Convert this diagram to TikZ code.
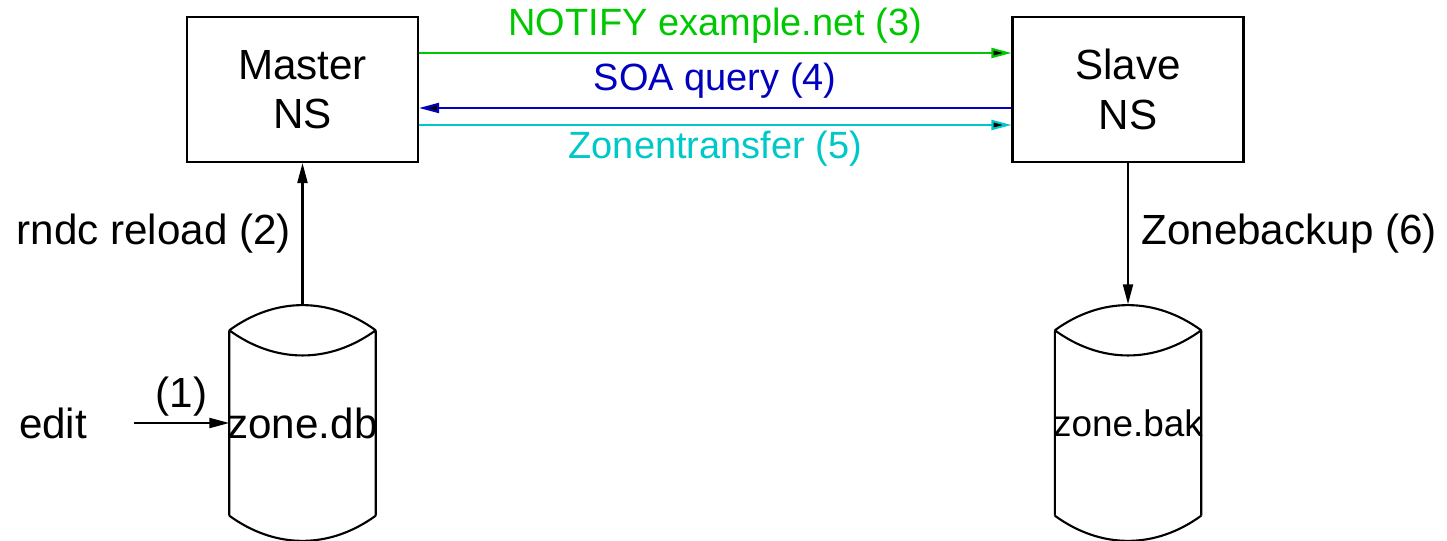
\documentclass[tikz,border=0pt]{standalone}
\usepackage{fontspec}
\setmainfont{Liberation Sans}
\usetikzlibrary{arrows.meta}
\definecolor{notifygreen}{RGB}{0,200,0}
\definecolor{soablue}{RGB}{0,0,190}
\definecolor{xfercyan}{RGB}{0,200,200}

\begin{document}
\begin{tikzpicture}[
  font=\fontsize{12}{14}\selectfont,
  nsbox/.style={rectangle, draw, line width=0.6pt, minimum width=2.31cm, minimum height=1.45cm, align=center},
  dbnode/.style={rectangle, inner sep=0pt, minimum width=1.45cm, minimum height=1.84cm},
  arr/.style={-{Triangle[length=0.2cm,width=0.1cm,fill=black]}, line width=0.6pt},
  msg/.style={font=\fontsize{10.8}{13}\selectfont}
]
  \useasboundingbox (0,0) rectangle (14.47,5.40);

  % name servers
  \node[nsbox] (master) at (3.025,4.505) {Master\\NS};
  \node[nsbox] (slave) at (11.28,4.505) {Slave\\NS};

  % zone files
  \node[dbnode] (zonedb) at (3.025,1.17) {\makebox[0pt]{zone.db}};
  \node[dbnode, font=\fontsize{10.5}{12}\selectfont] (zonebak) at (11.28,1.17) {\makebox[0pt]{zone.bak}};
  \foreach \db in {zonedb,zonebak} {
    \draw[line width=0.6pt] (\db.north west) to[bend left=36] (\db.north east)
      (\db.north west) to[bend right=36] (\db.north east)
      (\db.north west) -- (\db.south west)
      (\db.north east) -- (\db.south east)
      (\db.south west) to[bend right=36] (\db.south east);
    \coordinate (\db-top) at ([yshift=0.26cm]\db.north);
  }

  % edit
  \node[minimum width=1.6cm, inner sep=0pt] (edit) at (0.53,1.17) {edit};
  \draw[arr] (edit) -- node[above, inner sep=1.5pt] {(1)} (zonedb);

  % reload and backup
  \draw[arr] (zonedb-top) -- node[left, inner sep=3pt] {rndc reload (2)} (master);
  \draw[arr] (slave) -- node[right, inner sep=3.5pt] {Zonebackup (6)} (zonebak-top);

  % messages
  \draw[arr, notifygreen] ([yshift=0.365cm]master.east) -- node[msg, above, inner sep=2.5pt] {NOTIFY example.net (3)} ([yshift=0.365cm]slave.west);
  \draw[arr, soablue] ([yshift=-0.185cm]slave.west) -- node[msg, above, inner sep=2.5pt] {SOA query (4)} ([yshift=-0.185cm]master.east);
  \draw[arr, xfercyan] ([yshift=-0.355cm]master.east) -- node[msg, below, inner sep=1.5pt] {Zonentransfer (5)} ([yshift=-0.355cm]slave.west);
\end{tikzpicture}
\end{document}
